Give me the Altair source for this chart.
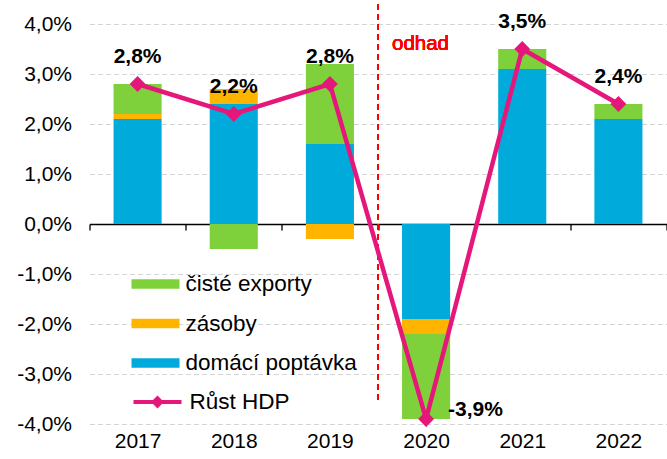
import altair as alt
import pandas as pd

years = ["2017", "2018", "2019", "2020", "2021", "2022"]
domestic = [2.1, 2.4, 1.6, -1.9, 3.1, 2.1]
inventories = [0.1, 0.3, -0.3, -0.3, 0.0, 0.0]
net_exports = [0.6, -0.5, 1.6, -1.7, 0.4, 0.3]
gdp = [2.8, 2.2, 2.8, -3.9, 3.5, 2.4]

comp_names = ["čisté exporty", "zásoby", "domácí poptávka"]
comp_colors = ["#7ED13B", "#FFB400", "#00ABDC"]
gdp_name = "Růst HDP"
gdp_color = "#E5177B"
y_ticks = [-4, -3, -2, -1, 0, 1, 2, 3, 4]

FONT = "Liberation Sans"

rows = []
for i, yr in enumerate(years):
    for name, vals, order in [(comp_names[2], domestic, 0),
                              (comp_names[1], inventories, 1),
                              (comp_names[0], net_exports, 2)]:
        rows.append({"year": yr, "component": name, "value": vals[i], "order": order})
bars_df = pd.DataFrame(rows)

gdp_df = pd.DataFrame({
    "year": years,
    "gdp": gdp,
    "series": gdp_name,
    "label": [("-" if v < 0 else "") + f"{abs(v):.1f}".replace(".", ",") + "%" for v in gdp],
})

x_scale = alt.Scale(domain=years, paddingInner=0, paddingOuter=0)
y_scale = alt.Scale(domain=[-4, 4], nice=False, zero=False)

x_axis = alt.Axis(
    orient="bottom", offset=-200, domain=True, domainColor="#000000", domainWidth=1.3,
    ticks=True, tickBand="extent", tickSize=6, tickColor="#000000", tickWidth=1.3,
    labelFont=FONT, labelFontSize=21, labelColor="#000000", labelPadding=200,
    labelAngle=0, grid=False, title=None,
)
y_axis = alt.Axis(
    values=y_ticks, domain=False, ticks=False, labelPadding=18,
    labelFont=FONT, labelFontSize=21, labelColor="#000000",
    labelExpr="(datum.value < 0 ? '-' : '') + replace(format(abs(datum.value), '.1f'), '.', ',') + '%'",
    grid=True, gridColor="#d4d4d4", gridDash=[5, 3], gridWidth=1, title=None,
)

bars = alt.Chart(bars_df).mark_bar(width=alt.RelativeBandSize(0.5)).encode(
    x=alt.X("year:N", scale=x_scale, axis=x_axis),
    y=alt.Y("value:Q", scale=y_scale, axis=y_axis, stack="zero"),
    fill=alt.Fill(
        "component:N",
        scale=alt.Scale(domain=comp_names, range=comp_colors),
        legend=alt.Legend(
            orient="none", legendX=54, legendY=248, title=None, padding=0,
            symbolType="M-2,-0.4H2V0.4H-2Z", symbolSize=576, symbolStrokeWidth=0,
            labelFont=FONT, labelFontSize=22.5, labelColor="#000000", labelLimit=400,
            labelOffset=18, rowPadding=15.5,
        ),
    ),
    order=alt.Order("order:Q"),
)

rule = alt.Chart(gdp_df).mark_rule(color="#FF0000", strokeDash=[6, 4], strokeWidth=1.5).encode(
    x=alt.XDatum("2020", type="nominal", bandPosition=0),
    y=alt.YDatum(4.4),
    y2=alt.Y2Datum(-3.56),
)

odhad = alt.Chart(gdp_df).mark_text(
    text="odhad", color="#FF0000", font=FONT, fontSize=20.5, fontWeight="normal",
    align="left", baseline="middle", dx=14
).encode(
    x=alt.XDatum("2020", type="nominal", bandPosition=0),
    y=alt.YDatum(3.6),
)

line = alt.Chart(gdp_df).mark_line(
    strokeWidth=4.5,
    point=alt.OverlayMarkDef(shape="diamond", size=170, filled=True, fill=gdp_color),
).encode(
    x=alt.X("year:N"),
    y=alt.Y("gdp:Q"),
    stroke=alt.Stroke(
        "series:N",
        scale=alt.Scale(domain=[gdp_name], range=[gdp_color]),
        legend=alt.Legend(
            orient="none", legendX=54, legendY=364, title=None, padding=0,
            symbolType="M-2,0H2M-0.3,0L0,-0.3L0.3,0L0,0.3Z", symbolSize=576,
            symbolStrokeWidth=4, symbolFillColor=gdp_color,
            labelFont=FONT, labelFontSize=22.5, labelColor="#000000", labelLimit=400,
            labelOffset=18,
        ),
    ),
)

labels_pos = alt.Chart(gdp_df).transform_filter("datum.gdp > 0").mark_text(
    font=FONT, fontSize=21, fontWeight="bold", color="#000000",
    align="center", baseline="middle", dy=-27,
).encode(x=alt.X("year:N"), y=alt.Y("gdp:Q"), text="label:N")

labels_neg = alt.Chart(gdp_df).transform_filter("datum.gdp < 0").mark_text(
    font=FONT, fontSize=21, fontWeight="bold", color="#000000",
    align="left", baseline="middle", dx=22, dy=-9,
).encode(x=alt.X("year:N"), y=alt.Y("gdp:Q"), text="label:N")

chart = alt.layer(bars, rule, odhad, line, labels_pos, labels_neg).properties(
    width=577,
    height=400,
    autosize=alt.AutoSizeParams(type="none"),
    padding={"left": 89.5, "top": 24, "right": 0, "bottom": 35},
    background="#ffffff",
).configure_view(stroke=None)

chart.save("out.html", embed_options={"renderer": "svg", "actions": False})
